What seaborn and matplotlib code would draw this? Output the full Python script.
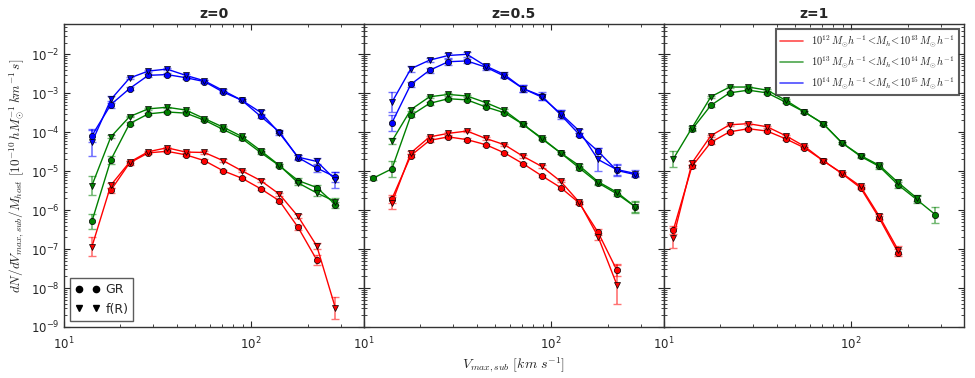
import numpy as np
import pandas as pd
import matplotlib
matplotlib.use('Agg')
import matplotlib.pyplot as plt
from matplotlib.lines import Line2D
from matplotlib.ticker import LogLocator
import seaborn as sns

nan = np.nan

# bin centres of V_max,sub [km/s]
vmax = [11.2, 14.1, 17.8, 22.4, 28.2, 35.5, 44.7, 56.2, 70.8, 89.1, 112.2, 141.3, 177.8, 223.9, 281.8]

redshifts = ['z=0', 'z=0.5', 'z=1']
mass_bins = ['M12', 'M13', 'M14']
mass_labels = [r'$10^{12}\,M_{\odot}h^{-1}<\!M_h\!<\!10^{13}\,M_{\odot}h^{-1}$',
               r'$10^{13}\,M_{\odot}h^{-1}<\!M_h\!<\!10^{14}\,M_{\odot}h^{-1}$',
               r'$10^{14}\,M_{\odot}h^{-1}<\!M_h\!<\!10^{15}\,M_{\odot}h^{-1}$']
colors = ['#ff0000', '#008000', '#0000ff']

# log10(dN/dV/M_host) (nan = no point)
# z = 0
z0_m12_gr = [nan, nan, -5.49, -4.79, -4.53, -4.49, -4.58, -4.73, -4.99, -5.18, -5.45, -5.76, -6.44, -7.28, nan]
z0_m12_fr = [nan, -6.94, -5.36, -4.77, -4.50, -4.40, -4.51, -4.52, -4.73, -4.99, -5.24, -5.59, -6.16, -6.92, -8.52]
z0_m13_gr = [nan, -6.29, -4.71, -3.78, -3.53, -3.48, -3.51, -3.69, -3.93, -4.16, -4.52, -4.86, -5.24, -5.42, -5.86]
z0_m13_fr = [nan, -5.37, -4.12, -3.60, -3.40, -3.36, -3.43, -3.65, -3.87, -4.11, -4.47, -4.85, -5.30, -5.56, -5.78]
z0_m14_gr = [nan, -4.09, -3.29, -2.88, -2.54, -2.52, -2.60, -2.70, -2.97, -3.18, -3.59, -3.99, -4.65, -4.92, -5.15]
z0_m14_fr = [nan, -4.26, -3.16, -2.61, -2.43, -2.38, -2.54, -2.68, -2.93, -3.18, -3.49, -4.02, -4.64, -4.75, -5.22]
# z = 0.5
z05_m12_gr = [nan, -5.71, -4.60, -4.21, -4.12, -4.19, -4.32, -4.53, -4.81, -5.12, -5.42, -5.82, -6.57, -7.54, nan]
z05_m12_fr = [nan, -5.82, -4.53, -4.12, -4.03, -3.97, -4.16, -4.32, -4.62, -4.88, -5.26, -5.80, -6.68, -7.91, nan]
z05_m13_gr = [-5.18, -4.94, -3.57, -3.26, -3.14, -3.17, -3.35, -3.50, -3.80, -4.17, -4.53, -4.92, -5.30, -5.58, -5.92]
z05_m13_fr = [nan, -4.23, -3.42, -3.09, -3.03, -3.07, -3.24, -3.44, -3.80, -4.15, -4.53, -4.86, -5.27, -5.54, -5.92]
z05_m14_gr = [nan, -3.76, -2.77, -2.41, -2.19, -2.17, -2.33, -2.56, -2.88, -3.07, -3.55, -4.06, -4.49, -4.98, -5.09]
z05_m14_fr = [nan, -3.23, -2.37, -2.15, -2.03, -2.00, -2.30, -2.52, -2.88, -3.10, -3.52, -3.97, -4.70, -4.96, -5.06]
# z = 1
z1_m12_gr = [-6.52, -4.88, -4.26, -3.99, -3.91, -3.97, -4.17, -4.40, -4.73, -5.06, -5.43, -6.21, -7.09, nan, nan]
z1_m12_fr = [-6.72, -4.79, -4.09, -3.81, -3.78, -3.86, -4.09, -4.36, -4.73, -5.05, -5.39, -6.16, -7.02, nan, nan]
z1_m13_gr = [nan, -3.93, -3.31, -2.99, -2.92, -2.99, -3.23, -3.48, -3.78, -4.27, -4.62, -4.88, -5.35, -5.73, -6.12]
z1_m13_fr = [-4.69, -3.89, -3.09, -2.84, -2.84, -2.92, -3.18, -3.48, -3.78, -4.27, -4.60, -4.85, -5.29, -5.69, nan]

# half-length of error bars in dex
z0_m12_gr_err = [0, 0, .06, .04, .03, .03, .03, .03, .03, .03, .03, .04, .06, .12, 0]
z0_m12_fr_err = [0, .25, .06, .03, .03, .03, .03, .03, .03, .03, .03, .04, .05, .08, .28]
z0_m13_gr_err = [0, .2, .1, .03, .02, .02, .02, .02, .03, .03, .03, .04, .06, .07, .08]
z0_m13_fr_err = [0, .25, .04, .02, .02, .02, .02, .02, .02, .02, .03, .03, .05, .07, .08]
z0_m14_gr_err = [0, .15, .1, .04, .03, .03, .03, .03, .03, .03, .04, .04, .06, .1, .12]
z0_m14_fr_err = [0, .35, .1, .03, .03, .03, .03, .03, .03, .03, .05, .05, .06, .08, .2]
z05_m12_gr_err = [0, .1, .04, .03, .03, .03, .03, .03, .03, .03, .03, .03, .08, .15, 0]
z05_m12_fr_err = [0, .15, .04, .03, .03, .03, .03, .03, .03, .03, .03, .04, .1, .5, 0]
z05_m13_gr_err = [.05, .2, .05, .03, .03, .03, .03, .03, .03, .04, .03, .04, .06, .06, .15]
z05_m13_fr_err = [0, .08, .04, .03, .03, .03, .03, .03, .03, .03, .03, .04, .05, .05, .12]
z05_m14_gr_err = [0, .2, .07, .06, .08, .06, .06, .06, .1, .1, .12, .05, .08, .15, .04]
z05_m14_fr_err = [0, .25, .08, .05, .06, .06, .06, .06, .1, .08, .1, .05, .3, .15, .1]
z1_m12_gr_err = [.1, .04, .03, .03, .03, .03, .03, .03, .03, .03, .03, .05, .08, 0, 0]
z1_m12_fr_err = [.25, .06, .03, .03, .03, .03, .03, .03, .03, .03, .03, .06, .1, 0, 0]
z1_m13_gr_err = [0, .05, .03, .03, .03, .03, .03, .03, .03, .03, .03, .06, .08, .1, .2]
z1_m13_fr_err = [.2, .05, .03, .03, .03, .03, .03, .03, .03, .03, .03, .05, .06, .08, 0]

series = [
    ('z=0', 'M12', 'GR', z0_m12_gr, z0_m12_gr_err), ('z=0', 'M12', 'f(R)', z0_m12_fr, z0_m12_fr_err),
    ('z=0', 'M13', 'GR', z0_m13_gr, z0_m13_gr_err), ('z=0', 'M13', 'f(R)', z0_m13_fr, z0_m13_fr_err),
    ('z=0', 'M14', 'GR', z0_m14_gr, z0_m14_gr_err), ('z=0', 'M14', 'f(R)', z0_m14_fr, z0_m14_fr_err),
    ('z=0.5', 'M12', 'GR', z05_m12_gr, z05_m12_gr_err), ('z=0.5', 'M12', 'f(R)', z05_m12_fr, z05_m12_fr_err),
    ('z=0.5', 'M13', 'GR', z05_m13_gr, z05_m13_gr_err), ('z=0.5', 'M13', 'f(R)', z05_m13_fr, z05_m13_fr_err),
    ('z=0.5', 'M14', 'GR', z05_m14_gr, z05_m14_gr_err), ('z=0.5', 'M14', 'f(R)', z05_m14_fr, z05_m14_fr_err),
    ('z=1', 'M12', 'GR', z1_m12_gr, z1_m12_gr_err), ('z=1', 'M12', 'f(R)', z1_m12_fr, z1_m12_fr_err),
    ('z=1', 'M13', 'GR', z1_m13_gr, z1_m13_gr_err), ('z=1', 'M13', 'f(R)', z1_m13_fr, z1_m13_fr_err),
]

rows = []
for z, m, model, vals, errs in series:
    for v, lv, e in zip(vmax, vals, errs):
        if not np.isnan(lv):
            rows.append({'z': z, 'mass': m, 'model': model, 'vmax': v,
                         'dndv': 10 ** lv, 'lo': 10 ** lv - 10 ** (lv - e), 'hi': 10 ** (lv + e) - 10 ** lv})
df = pd.DataFrame(rows)

sns.set_style('ticks')
plt.rcParams['font.family'] = ['DejaVu Sans']
plt.rcParams['mathtext.fontset'] = 'cm'

fig, axes = plt.subplots(1, 3, figsize=(9.75, 3.78), dpi=100, sharey=True)
fig.subplots_adjust(left=0.0656, right=0.9887, top=0.9365, bottom=0.135, wspace=0)

palette = dict(zip(mass_bins, colors))
for ax, z in zip(axes, redshifts):
    ax.set_xscale('log')
    ax.set_yscale('log')
    sub = df[df['z'] == z]
    for (m, model), g in sub.groupby(['mass', 'model']):
        ax.errorbar(g['vmax'], g['dndv'], yerr=[g['lo'], g['hi']], fmt='none',
                    ecolor=palette[m], alpha=0.55, capsize=3, elinewidth=1.2, zorder=1)
    sns.lineplot(data=sub, x='vmax', y='dndv', hue='mass', style='model', hue_order=mass_bins,
                 style_order=['GR', 'f(R)'], palette=palette, markers={'GR': 'o', 'f(R)': 'v'},
                 dashes=False, estimator=None, sort=True, legend=False, ax=ax,
                 markersize=4.5, markeredgecolor='k', markeredgewidth=0.5, linewidth=1.0)
    ax.set_xlim(10, 400)
    ax.set_ylim(1e-9, 6e-2)
    ax.set_title(z, fontsize=10, fontweight='bold', pad=4)
    ax.set_xlabel('')
    ax.set_ylabel('')
    ax.yaxis.set_major_locator(LogLocator(base=10, numticks=20))
    ax.yaxis.set_minor_locator(LogLocator(base=10, subs=np.arange(2, 10), numticks=20))
    ax.tick_params(which='both', direction='in', top=True, right=True, labelsize=8.5)
    ax.tick_params(which='major', length=4, pad=3)
    ax.tick_params(axis='x', which='major', pad=6)
    ax.tick_params(which='minor', length=2)
    for sp in ax.spines.values():
        sp.set_color('#333333')
        sp.set_linewidth(1.0)

axes[0].set_ylabel(r'$dN/dV_{max,sub}/M_{host}\ [10^{-10}\,hM_{\odot}^{-1}\,km^{-1}\,s]$',
                   fontsize=9.5, labelpad=3)
axes[1].set_xlabel(r'$V_{max,sub}\ [km\ s^{-1}]$', fontsize=10, labelpad=3)

model_handles = [Line2D([], [], color='k', marker='o', linestyle='none', markersize=4.5),
                 Line2D([], [], color='k', marker='v', linestyle='none', markersize=4.5)]
leg1 = axes[0].legend(model_handles, ['GR', 'f(R)'], loc='lower left', numpoints=2, fontsize=9,
                      frameon=True, fancybox=False, handletextpad=0.4, borderpad=0.4)
leg1.get_frame().set_edgecolor('#333333')
leg1.get_frame().set_linewidth(1.0)

mass_handles = [Line2D([], [], color=c, alpha=0.7, linewidth=1.2) for c in colors]
leg3 = axes[2].legend(mass_handles, mass_labels, loc='upper right', fontsize=7.5, frameon=True,
                      fancybox=False, handlelength=2.2, borderpad=0.4, labelspacing=0.5)
leg3.get_frame().set_edgecolor('#333333')
leg3.get_frame().set_linewidth(1.5)

fig.savefig('out.png', dpi=100)
